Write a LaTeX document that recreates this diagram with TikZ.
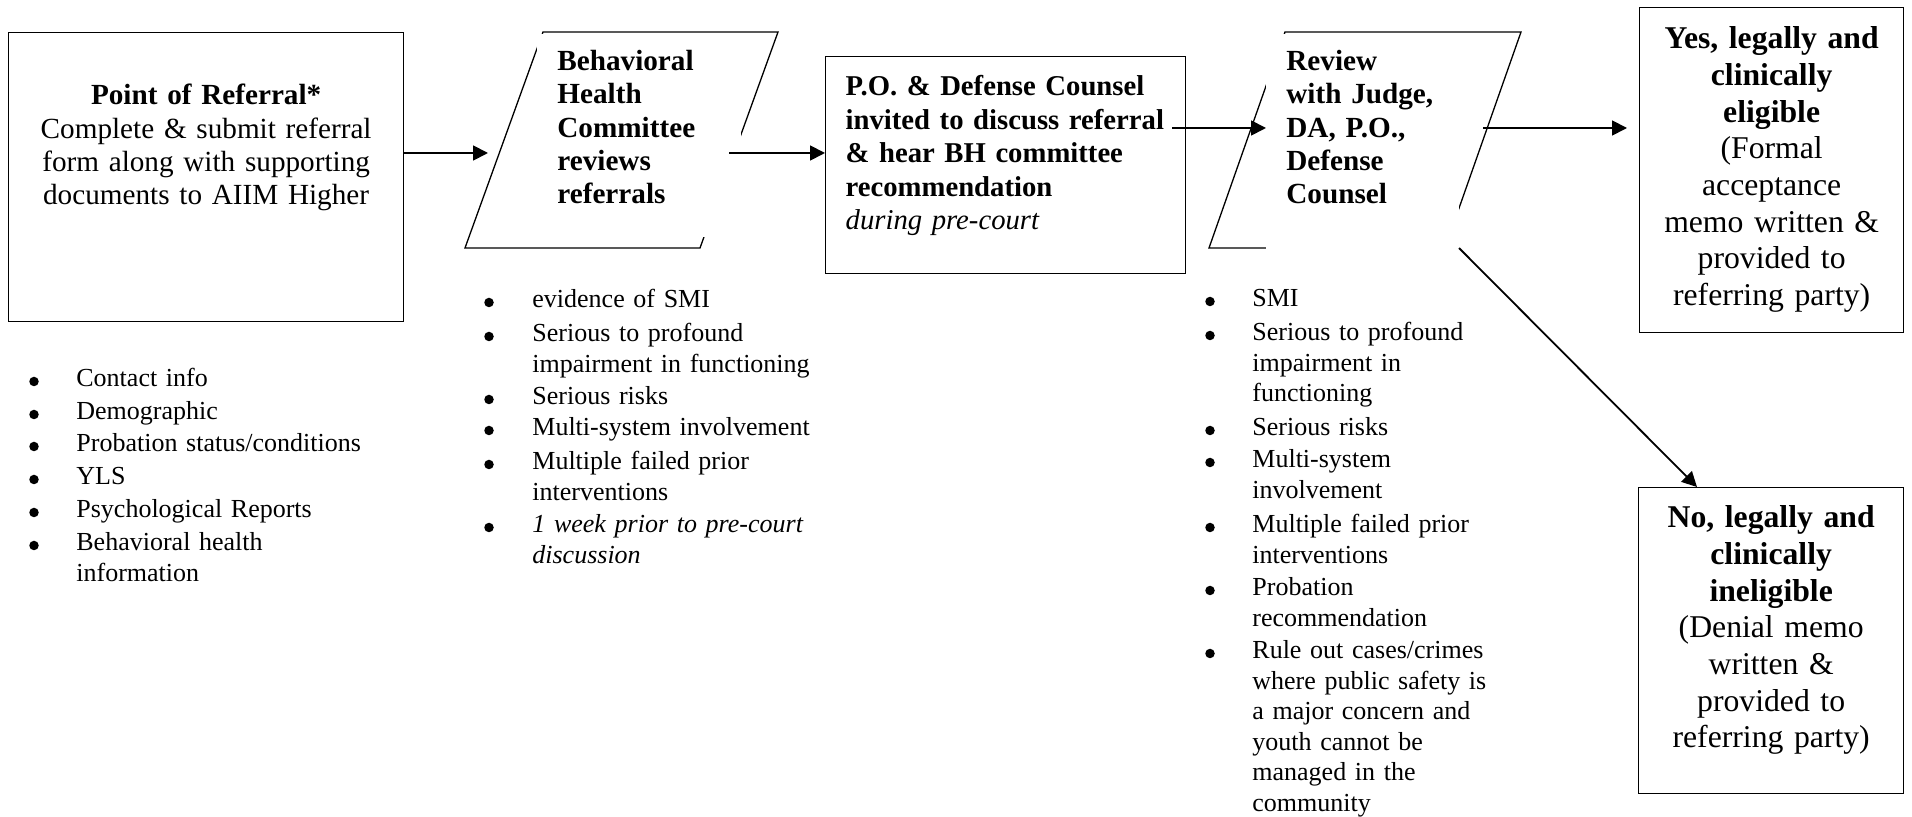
\documentclass[tikz,border=0pt]{standalone}
\usepackage{fontspec}
\setmainfont{Liberation Serif}
\usetikzlibrary{arrows.meta}
\newlength{\unitpx}
\setlength{\unitpx}{0.5pt}

\begin{document}
\begin{tikzpicture}[x=\unitpx,y=-\unitpx]
  \tikzset{
    box/.style={draw,line width=0.65pt,anchor=north west,inner ysep=0pt,
      font=\fontsize{14.6}{16.7}\selectfont},
    cover/.style={fill=white,anchor=north west,inner ysep=0pt,align=left,
      font=\fontsize{14.6}{16.7}\selectfont\bfseries},
    outcome/.style={box,align=center,inner xsep=12\unitpx,
      font=\fontsize{15.85}{18.35}\selectfont},
    flow/.style={line width=0.9pt,-{Triangle[length=7.5pt,width=7.5pt]}},
    dot/.style={circle,fill,inner sep=0pt,minimum size=9.5\unitpx,yshift=5.5\unitpx},
    crit/.style={anchor=base west,inner sep=0pt,align=left,text width=150pt,
      font=\fontsize{13}{15.25}\selectfont},
  }
  \useasboundingbox (0,0) rectangle (1912,817);

  %REFERRAL
  \node[box,align=center,text width=360\unitpx,inner xsep=17.5\unitpx,
    text height=72\unitpx,text depth=217\unitpx] (referral) at (8,32)
    {\textbf{Point of Referral*}\\Complete \& submit referral\\form along with supporting\\documents to AIIM Higher};

  %COMMITTEE
  \draw[line width=0.65pt] (543,32) -- (778,32) -- (700,248) -- (465,248) -- cycle;
  \node[cover,text width=164\unitpx,inner xsep=20\unitpx,
    text height=36\unitpx,text depth=167\unitpx] (committee) at (537,34)
    {Behavioral\\Health\\Committee\\reviews\\referrals};

  %PRE-COURT
  \node[box,align=left,text width=320\unitpx,inner xsep=20\unitpx,
    text height=39\unitpx,text depth=178\unitpx,font=\fontsize{14.35}{16.75}\selectfont] (precourt) at (825,56)
    {\textbf{P.O. \& Defense Counsel\\\mbox{invited to discuss referral}\\\& hear BH committee\\recommendation}\\\textit{during pre-court}};

  %REVIEW
  \draw[line width=0.65pt] (1285,32) -- (1521,32) -- (1445,248) -- (1209,248) -- cycle;
  \node[cover,text width=153\unitpx,inner xsep=20\unitpx,
    text height=36\unitpx,text depth=182\unitpx] (review) at (1266,34)
    {Review\\with Judge,\\DA, P.O.,\\Defense\\Counsel};

  %OUTCOMES
  \node[outcome,text width=240\unitpx,text height=41\unitpx,text depth=284\unitpx] (yes) at (1639,7)
    {\textbf{Yes, legally and\\clinically\\eligible}\\(Formal\\acceptance\\memo written \&\\provided to\\referring party)};
  \node[outcome,text width=241\unitpx,text height=40\unitpx,text depth=266\unitpx] (no) at (1638,487)
    {\textbf{No, legally and\\clinically\\ineligible}\\(Denial memo\\written \&\\provided to\\referring party)};

  %ARROWS
  \coordinate (bhcin) at (488,153);
  \coordinate (bhcout) at (729,153);
  \coordinate (revin) at (1266,128);
  \coordinate (revout) at (1483,128);
  \coordinate (revdown) at (1459,248);
  \draw[flow] (referral.east |- bhcin) -- (bhcin);
  \draw[flow] (bhcout) -- (bhcout -| precourt.west);
  \draw[flow] ([xshift=-14\unitpx]precourt.east |- revin) -- (revin);
  \draw[flow] (revout) -- ([xshift=-12\unitpx]yes.west |- revout);
  \draw[flow] (revdown) -- ([xshift=59\unitpx]no.north west);

  %LIST REFERRAL
  \foreach \y/\txt [count=\i] in {387/Contact info,420/Demographic,452/{Probation status/conditions},
      485/YLS,518/Psychological Reports,551/{Behavioral health\\information}}{
    \node[dot] (dotA\i) at (34,\y) {};
    \node[crit] (critA\i) at (76,\y) {\txt};
  }

  %LIST COMMITTEE
  \foreach \y/\txt [count=\i] in {308/evidence of SMI,342/{Serious to profound\\impairment in functioning},
      405/Serious risks,436/Multi-system involvement,470/{Multiple failed prior\\interventions},
      533/{\itshape 1 week prior to pre-court\\discussion}}{
    \node[dot] (dotB\i) at (489,\y) {};
    \node[crit] (critB\i) at (532,\y) {\txt};
  }

  %LIST REVIEW
  \foreach \y/\txt [count=\i] in {307/SMI,341/{Serious to profound\\impairment in\\functioning},
      436/Serious risks,468/{Multi-system\\involvement},533/{Multiple failed prior\\interventions},
      596/{Probation\\recommendation},
      659/{Rule out cases/crimes\\where public safety is\\a major concern and\\youth cannot be\\managed in the\\community}}{
    \node[dot] (dotC\i) at (1210,\y) {};
    \node[crit] (critC\i) at (1252,\y) {\txt};
  }
\end{tikzpicture}
\end{document}
